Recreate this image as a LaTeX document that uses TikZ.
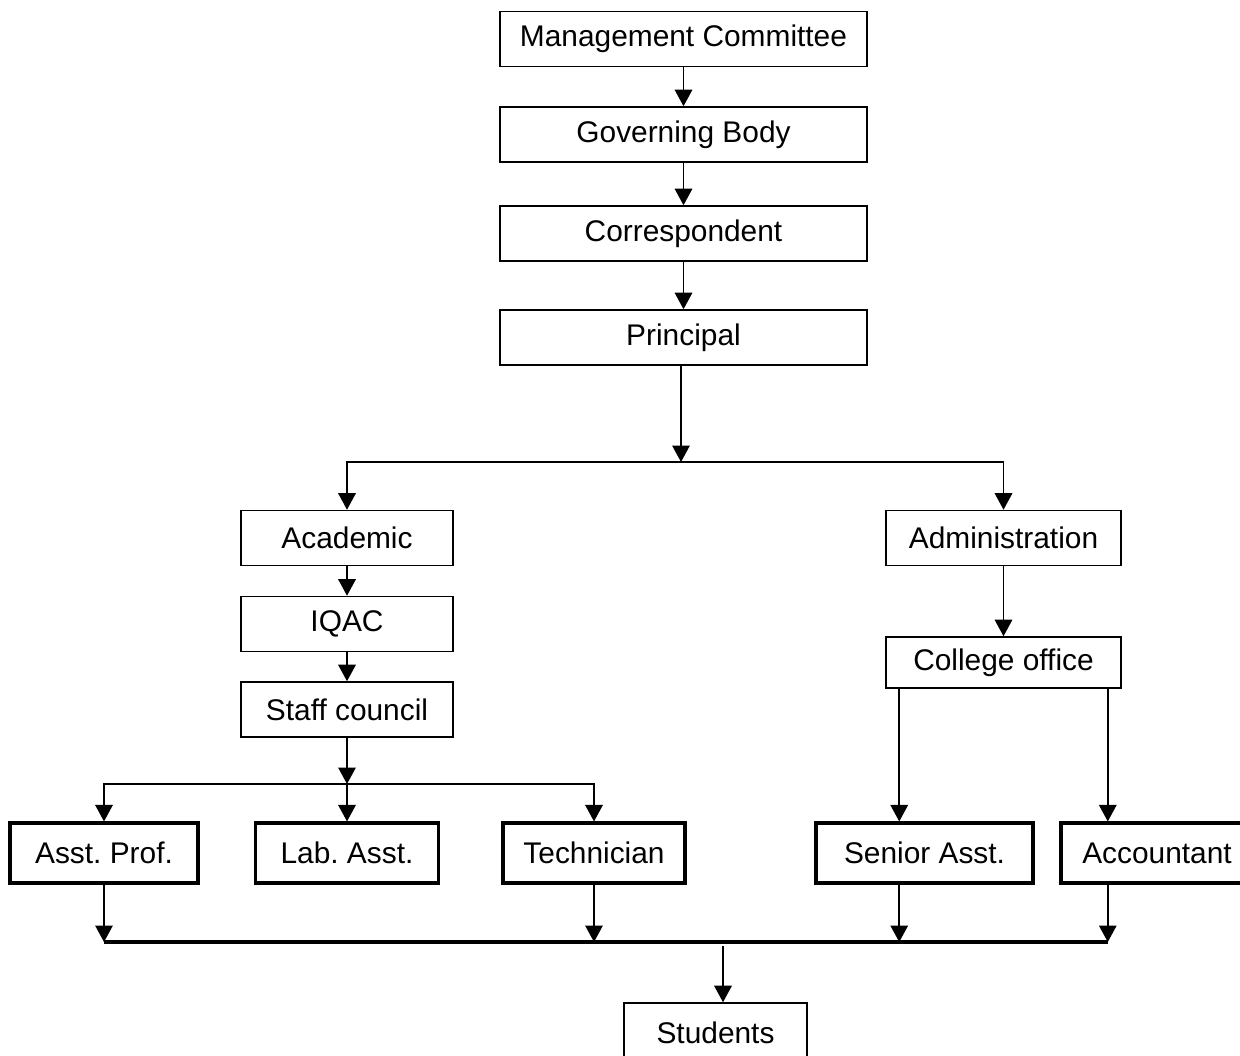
\documentclass[tikz,border=0pt]{standalone}
\usepackage{fontspec}
\setmainfont{Liberation Sans}
\usetikzlibrary{positioning,arrows.meta,calc}
\frenchspacing
\tikzset{
  orgbox/.style={draw,line width=0.9pt,minimum height=1.1cm,inner sep=2pt,font=\fontsize{17}{20}\selectfont},
  postbox/.style={draw,line width=1.8pt,minimum height=1.2cm,inner sep=2pt,font=\fontsize{17}{20}\selectfont},
  flow/.style={-{Triangle[length=3.3mm,width=3.5mm]},line width=0.9pt},
  bus/.style={line width=1.8pt},
}

\begin{document}
\begin{tikzpicture}[x=0.02cm,y=-0.02cm]
  \clip (0,0) rectangle (1240,1055);
  \useasboundingbox (0,0) rectangle (1240,1055);
  % management chain
  \node[orgbox,minimum width=7.34cm] (mc) at (683.5,39) {Management Committee};
  \node[orgbox,minimum width=7.34cm] (gb) at (683.5,134.5) {Governing Body};
  \node[orgbox,minimum width=7.34cm] (corr) at (683.5,233.5) {Correspondent};
  \node[orgbox,minimum width=7.34cm] (prin) at (683.5,337.5) {Principal};
  \draw[flow] (mc.south) -- (gb.north);
  \draw[flow] (gb.south) -- (corr.north);
  \draw[flow] (corr.south) -- (prin.north);
  % split
  \coordinate (jp) at (681,462);
  \node[orgbox,minimum width=4.24cm] (acad) at (347,538) {Academic};
  \node[orgbox,minimum width=4.7cm] (admin) at (1003.5,538) {Administration};
  \draw[flow] (prin.south -| jp) -- (jp);
  \draw[flow] (jp) -| (acad.north);
  \draw[flow] (jp) -| (admin.north);
  % academic side
  \node[orgbox,minimum width=4.24cm] (iqac) at (347,624) {IQAC};
  \node[orgbox,minimum width=4.24cm] (staff) at (347,709.5) {Staff council};
  \draw[flow] (acad.south) -- (iqac.north);
  \draw[flow] (iqac.south) -- (staff.north);
  \coordinate (js) at (347,784);
  \draw[flow] (staff.south) -- (js);
  \node[postbox,minimum width=3.76cm] (aprof) at (104,853) {Asst. Prof.};
  \node[postbox,minimum width=3.66cm] (lab) at (347,853) {Lab. Asst.};
  \node[postbox,minimum width=3.64cm] (tech) at (594,853) {Technician};
  \draw[flow] (js) -| (aprof.north);
  \draw[flow] (js) -- (lab.north);
  \draw[flow] (js) -| (tech.north);
  % administration side
  \node[orgbox,minimum width=4.7cm,minimum height=1.02cm] (office) at (1003.5,662.5) {College office};
  \draw[flow] (admin.south) -- (office.north);
  \node[postbox,minimum width=4.34cm] (senior) at (924.5,853) {Senior Asst.};
  \node[postbox,minimum width=3.84cm] (acct) at (1157,853) {Accountant};
  \coordinate (od1) at ([xshift=0.28cm]office.south west);
  \coordinate (od2) at ([xshift=-0.28cm]office.south east);
  \draw[flow] (od1) -- (od1 |- senior.north);
  \draw[flow] (od2) -- (od2 |- acct.north);
  % students
  \coordinate (busl) at (aprof.south |- 0,942);
  \coordinate (busr) at (od2 |- 0,942);
  \draw[bus] (busl) -- (busr);
  \draw[flow] (aprof.south) -- (busl);
  \draw[flow] (tech.south) -- (tech.south |- busl);
  \draw[flow] (senior.south -| od1) -- (od1 |- busl);
  \draw[flow] (acct.south -| od2) -- (busr);
  \node[orgbox,minimum width=3.66cm,minimum height=1.2cm] (students) at (715.5,1033) {Students};
  \coordinate (bs) at (723,946);
  \draw[flow] (bs) -- (bs |- students.north);
\end{tikzpicture}
\end{document}
